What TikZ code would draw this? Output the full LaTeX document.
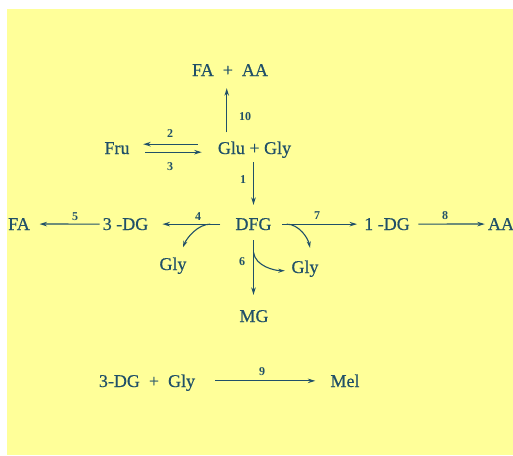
\documentclass[tikz,border=0pt]{standalone}
\usepackage{fontspec}
\setmainfont{Liberation Serif}
\newfontfamily\chemfont[FakeBold=0.5]{Liberation Serif}
\usetikzlibrary{arrows.meta,calc}
\definecolor{bgyellow}{RGB}{255,255,153}
\definecolor{ink}{RGB}{32,80,104}
\begin{document}
\begin{tikzpicture}[x=1pt,y=-1pt,
  chem/.style={inner sep=0pt, anchor=base, text=ink, font=\chemfont\fontsize{18}{20}\selectfont},
  num/.style={inner sep=0pt, anchor=base, text=ink, font=\fontsize{12}{13}\selectfont\bfseries},
  arr/.style={draw=ink, line width=1.2pt, -{Stealth[length=7.5pt,width=4.5pt]}},
  bendarr/.style={draw=ink, line width=1.1pt, -{Stealth[length=6.5pt,width=4pt]}}]
\useasboundingbox (0,0) rectangle (513,455);
\fill[white] (0,0) rectangle (513,455);
\fill[bgyellow] (7,9) rectangle (513,455);

% species
\node[chem] (faaa) at (230,76) {FA\enspace+\enspace AA};
\node[chem] (fru) at (117,154) {Fru};
\node[chem] (glu) at (254.5,154) {Glu + Gly};
\node[chem] (dfg) at (253.5,230) {DFG};
\node[chem] (tdg) at (125.5,230) {3 -DG};
\node[chem] (fa) at (19,230) {FA};
\node[chem] (odg) at (387,230) {1 -DG};
\node[chem] (aa) at (501,230) {AA};
\node[chem] (glyl) at (173,270) {Gly};
\node[chem] (glyr) at (305,273) {Gly};
\node[chem] (mg) at (254,322) {MG};
\node[chem] (bot) at (147,387) {3-DG\enspace+\enspace Gly};
\node[chem] (mel) at (345,387) {Mel};

% reaction numbers
\node[num] (n10) at (245,120) {10};
\node[num] (n2) at (170,137) {2};
\node[num] (n3) at (170,170) {3};
\node[num] (n1) at (243,183) {1};
\node[num] (n5) at (75,220) {5};
\node[num] (n4) at (198,220) {4};
\node[num] (n7) at (317,219) {7};
\node[num] (n8) at (445,219) {8};
\node[num] (n6) at (242,265) {6};
\node[num] (n9) at (262,375) {9};

% 10
\coordinate (g10) at ([xshift=9pt]glu.north west);
\draw[arr, shorten <=9pt, shorten >=12pt] (g10) -- (g10 |- faaa.south);
% 2 and 3
\coordinate (f2) at ([yshift=4pt]fru.east);
\coordinate (f3) at ([yshift=-4pt]fru.east);
\draw[arr, shorten <=20pt, shorten >=13.5pt] (f2 -| glu.west) -- (f2);
\draw[arr, shorten <=15.5pt, shorten >=16pt] (f3) -- (f3 -| glu.west);
% 1
\draw[arr, shorten <=4pt, shorten >=13pt] (glu.south -| dfg.north) -- (dfg.north);
% 6
\draw[arr, shorten <=10pt, shorten >=15pt] (dfg.south) -- (dfg.south |- mg.north);
% 4
\draw[arr, shorten <=15pt, shorten >=14pt] (dfg.west) -- (tdg.east);
% 5
\draw[arr, shorten <=3pt, shorten >=9.5pt] (tdg.west) -- (fa.east);
% 7
\draw[arr, shorten <=10.5pt, shorten >=7pt] (dfg.east) -- (odg.west);
% 8
\draw[arr, shorten <=8.3pt, shorten >=3pt] (odg.east) -- (aa.west);
% 9
\draw[arr, shorten <=20pt, shorten >=15pt] (bot.east |- mel.west) -- (mel.west);

% Gly side branches
\coordinate (c4s) at ([xshift=-25pt]dfg.west);
\coordinate (c4e) at ([xshift=10pt,yshift=10pt]glyl.north);
\draw[bendarr] (c4s) .. controls +(-12,0) and +(4,-10) .. (c4e);
\coordinate (c7s) at ([xshift=15pt]dfg.east);
\coordinate (c7e) at ([xshift=5pt,yshift=12.5pt]glyr.north);
\draw[bendarr] (c7s) .. controls +(12,0) and +(-2,-10) .. (c7e);
\coordinate (c6s) at ([yshift=-22pt]dfg.south);
\coordinate (c6e) at ([xshift=-6.5pt,yshift=-2pt]glyr.west);
\draw[bendarr] (c6s) .. controls +(2,14) and +(-10,0) .. (c6e);
\end{tikzpicture}
\end{document}
